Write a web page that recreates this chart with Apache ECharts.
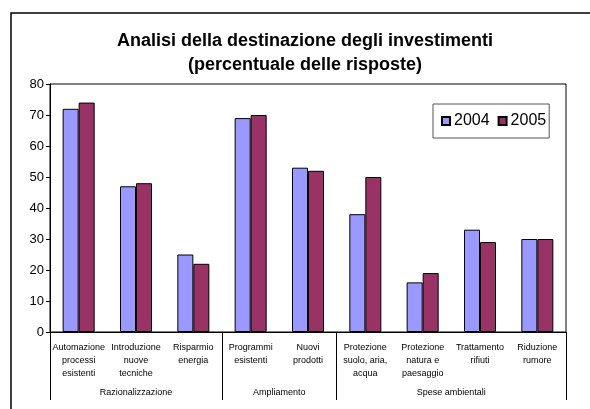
<!DOCTYPE html>
<html>
<head>
<meta charset="utf-8">
<script src="https://cdn.jsdelivr.net/npm/echarts@6/dist/echarts.min.js"></script>
<style>
  html, body { margin: 0; padding: 0; background: #fff; }
  #chart { width: 590px; height: 409px; }
</style>
</head>
<body>
<div id="chart"></div>
<script>
const categories = [
  'Automazione\nprocessi\nesistenti',
  'Introduzione\nnuove\ntecniche',
  'Risparmio\nenergia',
  'Programmi\nesistenti',
  'Nuovi\nprodotti',
  'Protezione\nsuolo, aria,\nacqua',
  'Protezione\nnatura e\npaesaggio',
  'Trattamento\nrifiuti',
  'Riduzione\nrumore'
];
const groups = ['Razionalizzazione', 'Ampliamento', 'Spese ambientali'];
const groupSizes = [3, 2, 4];
const values2004 = [72, 47, 25, 69, 53, 38, 16, 33, 30];
const values2005 = [74, 48, 22, 70, 52, 50, 19, 29, 30];
const yTicks = [0, 10, 20, 30, 40, 50, 60, 70, 80];

// group boundaries and label centres on a 0..n scale
let bounds = [0];
let centres = [];
groupSizes.forEach((s) => {
  let start = bounds[bounds.length - 1];
  centres.push(start + s / 2);
  bounds.push(start + s);
});

let chart = echarts.init(document.getElementById('chart'));

let option = {
  animation: false,
  textStyle: { fontFamily: 'Liberation Sans, Arial, sans-serif' },
  title: {
    text: 'Analisi della destinazione degli investimenti\n(percentuale delle risposte)',
    left: 300,
    textAlign: 'center',
    top: 24,
    textStyle: {
      fontSize: 18,
      fontWeight: 'bold',
      color: '#000',
      lineHeight: 24
    }
  },
  graphic: [{
    type: 'rect',
    shape: { x: 11, y: 13, width: 640, height: 440 },
    style: { fill: 'none', stroke: '#000', lineWidth: 1.5 },
    silent: true
  }],
  legend: {
    data: ['2004', '2005'],
    left: 433,
    top: 104,
    padding: [9, 3, 9, 8],
    itemGap: 8,
    itemWidth: 8,
    itemHeight: 8,
    icon: 'rect',
    borderColor: '#555',
    borderWidth: 1,
    textStyle: { fontSize: 16, color: '#000', padding: [0, 0, 0, -1] }
  },
  grid: {
    left: 50,
    right: 24,
    top: 84,
    bottom: 77,
    show: true,
    borderColor: '#000',
    borderWidth: 1
  },
  xAxis: [{
    type: 'category',
    data: categories,
    axisLine: { lineStyle: { color: '#000', width: 1 } },
    axisTick: { length: 47, lineStyle: { color: '#000' } },
    axisLabel: {
      interval: 0,
      margin: 9,
      fontSize: 9,
      lineHeight: 13,
      color: '#000'
    }
  }, {
    type: 'value',
    min: 0,
    max: categories.length,
    position: 'bottom',
    axisLine: { show: false },
    splitLine: { show: false },
    axisTick: {
      show: true,
      length: 68,
      customValues: bounds,
      lineStyle: { color: '#000' }
    },
    axisLabel: {
      customValues: centres,
      margin: 56,
      fontSize: 9,
      color: '#000',
      formatter: (v) => groups[centres.indexOf(v)] || ''
    }
  }],
  yAxis: {
    type: 'value',
    min: yTicks[0],
    max: yTicks[yTicks.length - 1],
    interval: 10,
    axisLine: { show: true, lineStyle: { color: '#000' } },
    axisTick: { show: true, length: 4, lineStyle: { color: '#000' } },
    splitLine: { show: false },
    axisLabel: { fontSize: 13, color: '#000', margin: 6 }
  },
  series: [{
    name: '2004',
    type: 'bar',
    data: values2004,
    barWidth: 16,
    barGap: '0%',
    itemStyle: { color: '#9999ff', borderColor: '#000', borderWidth: 1 }
  }, {
    name: '2005',
    type: 'bar',
    data: values2005,
    barWidth: 16,
    barGap: '0%',
    itemStyle: { color: '#993366', borderColor: '#000', borderWidth: 1 }
  }]
};

chart.setOption(option);
</script>
</body>
</html>
